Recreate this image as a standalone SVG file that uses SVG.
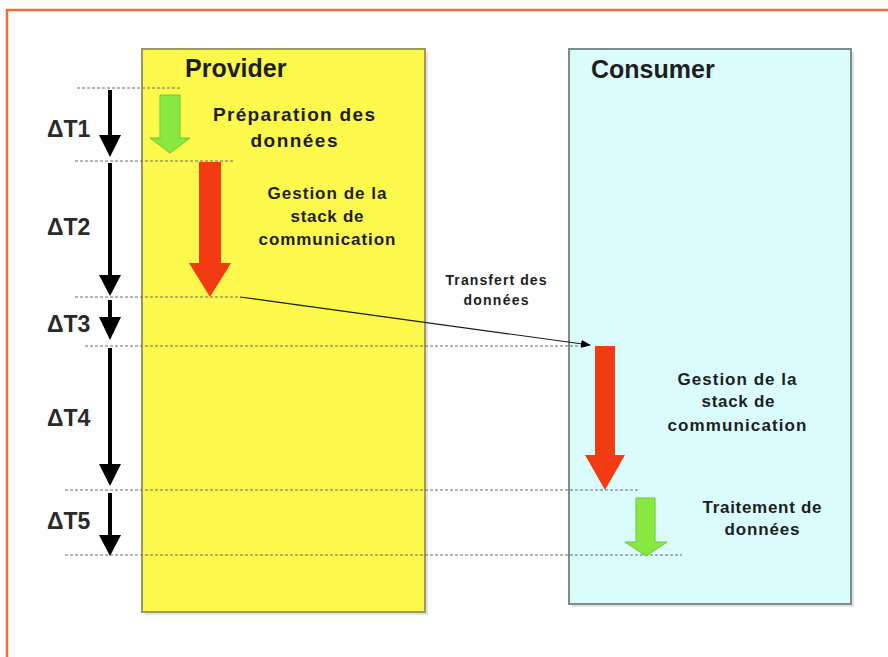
<svg xmlns="http://www.w3.org/2000/svg" width="888" height="657" viewBox="0 0 888 657">
  <style>
    .lbl { font-family: "Liberation Sans", Arial, sans-serif; font-weight: bold; fill: #1e1e1e; }
    .title { font-size: 25px; }
    .dt { font-size: 23px; fill: #2a2a2a; }
    .note { font-size: 17px; text-anchor: middle; }
    .prep { font-size: 19px; }
    .small { font-size: 14px; text-anchor: middle; }
    .guide { stroke: #6a6a6a; stroke-width: 1; stroke-dasharray: 3 2; fill: none; }
    .tick { stroke: #000; stroke-width: 4; }
    .tickhead { fill: #000; }
    .red { fill: #f23b12; }
    .green { fill: #88e840; stroke: #70c830; stroke-width: 1; }
  </style>
  <defs>
    <marker id="arrowhead" markerWidth="10" markerHeight="8" refX="9" refY="4" orient="auto" markerUnits="userSpaceOnUse">
      <path d="M0,0 L10,4 L0,8 Z" fill="#000"/>
    </marker>
  </defs>

  <rect x="0" y="0" width="888" height="657" fill="#ffffff"/>
  <!-- outer frame -->
  <rect x="7" y="10" width="900" height="700" fill="none" stroke="#f26a3a" stroke-width="2.5"/>

  <!-- lanes -->
  <g id="provider">
    <rect x="145" y="52" width="283" height="563" fill="#c8c8c8" opacity="0.5"/>
    <rect x="142" y="49" width="283" height="563" fill="#fcf84c" stroke="#9a9a68" stroke-width="2"/>
    <text class="lbl title" x="185" y="77">Provider</text>
  </g>
  <g id="consumer">
    <rect x="572" y="52" width="282" height="555" fill="#c8c8c8" opacity="0.5"/>
    <rect x="569" y="49" width="282" height="555" fill="#dafcfd" stroke="#7d8c8e" stroke-width="2"/>
    <text class="lbl title" x="591" y="78">Consumer</text>
  </g>

  <!-- time guides -->
  <g id="guides">
    <line class="guide" x1="77" y1="88" x2="180" y2="88"/>
    <line class="guide" x1="75" y1="161" x2="235" y2="161"/>
    <line class="guide" x1="75" y1="297" x2="240" y2="297"/>
    <line class="guide" x1="85" y1="346" x2="585" y2="346"/>
    <line class="guide" x1="65" y1="490" x2="638" y2="490"/>
    <line class="guide" x1="65" y1="555" x2="682" y2="555"/>
  </g>

  <!-- interval arrows -->
  <g id="intervals">
    <g id="dt1">
      <line class="tick" x1="110" y1="90" x2="110" y2="138"/>
      <polygon class="tickhead" points="99,135 121,135 110,157"/>
      <text class="lbl dt" x="47" y="137">ΔT1</text>
    </g>
    <g id="dt2">
      <line class="tick" x1="110" y1="163" x2="110" y2="278"/>
      <polygon class="tickhead" points="99,275 121,275 110,296"/>
      <text class="lbl dt" x="47" y="235">ΔT2</text>
    </g>
    <g id="dt3">
      <line class="tick" x1="110" y1="300" x2="110" y2="320"/>
      <polygon class="tickhead" points="99,317 121,317 110,340"/>
      <text class="lbl dt" x="47" y="332">ΔT3</text>
    </g>
    <g id="dt4">
      <line class="tick" x1="110" y1="348" x2="110" y2="467"/>
      <polygon class="tickhead" points="99,464 121,464 110,486"/>
      <text class="lbl dt" x="47" y="426">ΔT4</text>
    </g>
    <g id="dt5">
      <line class="tick" x1="110" y1="493" x2="110" y2="538"/>
      <polygon class="tickhead" points="99,535 121,535 110,556"/>
      <text class="lbl dt" x="47" y="529">ΔT5</text>
    </g>
  </g>

  <!-- processing steps -->
  <g id="prep">
    <polygon class="green" points="160,95 180,95 180,138 190,138 170,153 150,138 160,138"/>
    <text class="lbl note prep" x="294" y="121" textLength="162" lengthAdjust="spacing">Préparation des</text>
    <text class="lbl note prep" x="294" y="147" textLength="87" lengthAdjust="spacing">données</text>
  </g>
  <g id="stack-provider">
    <polygon class="red" points="199,162 221,162 221,263 231,263 210,297 189,263 199,263"/>
    <text class="lbl note" x="327" y="199" textLength="119" lengthAdjust="spacing">Gestion de la</text>
    <text class="lbl note" x="327" y="222" textLength="73" lengthAdjust="spacing">stack de</text>
    <text class="lbl note" x="327" y="245" textLength="137" lengthAdjust="spacing">communication</text>
  </g>
  <g id="stack-consumer">
    <polygon class="red" points="595,346 615,346 615,455 625,455 605,490 585,455 595,455"/>
    <text class="lbl note" x="737" y="385" textLength="119" lengthAdjust="spacing">Gestion de la</text>
    <text class="lbl note" x="738" y="407" textLength="73" lengthAdjust="spacing">stack de</text>
    <text class="lbl note" x="737" y="431" textLength="139" lengthAdjust="spacing">communication</text>
  </g>
  <g id="processing">
    <polygon class="green" points="636,498 655,498 655,542 667,542 646,556 625,542 636,542"/>
    <text class="lbl note" x="762" y="513" textLength="119" lengthAdjust="spacing">Traitement de</text>
    <text class="lbl note" x="762" y="535" textLength="75" lengthAdjust="spacing">données</text>
  </g>

  <!-- data transfer -->
  <g id="connectors">
    <line x1="240" y1="297" x2="590" y2="345" stroke="#1a1a1a" stroke-width="1.2" marker-end="url(#arrowhead)"/>
    <text class="lbl small" x="496" y="285" textLength="101" lengthAdjust="spacing">Transfert des</text>
    <text class="lbl small" x="496" y="305" textLength="65" lengthAdjust="spacing">données</text>
  </g>
</svg>
